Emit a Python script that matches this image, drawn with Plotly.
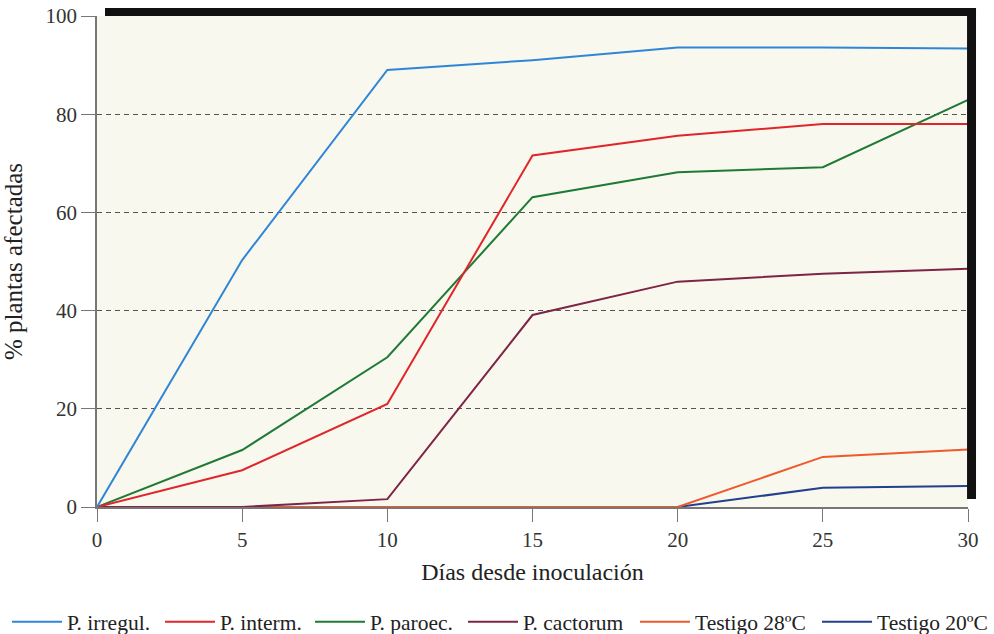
import plotly.graph_objects as go

dias = [0, 5, 10, 15, 20, 25, 30]
p_irregul = [0, 50.3, 89, 91, 93.6, 93.6, 93.4]
p_interm = [0, 7.5, 21, 71.6, 75.6, 78, 78]
p_paroec = [0, 11.6, 30.5, 63.1, 68.2, 69.2, 82.9]
p_cactorum = [0, 0, 1.6, 39.1, 45.9, 47.5, 48.5]
testigo_28 = [0, 0, 0, 0, 0, 10.2, 11.7]
testigo_20 = [0, 0, 0, 0, 0, 3.9, 4.3]

series = [
    ("P. irregul.", p_irregul, "#2f86d6"),
    ("P. interm.", p_interm, "#e0262a"),
    ("P. paroec.", p_paroec, "#1f7a35"),
    ("P. cactorum", p_cactorum, "#7d2447"),
    ("Testigo 28ºC", testigo_28, "#f0592e"),
    ("Testigo 20ºC", testigo_20, "#233f8f"),
]
draw_order = [5, 4, 3, 2, 1, 0]

font = "Liberation Serif"
W, H = 994, 634
L, T, PW, PH = 97, 16, 871, 491

# one legend per entry so the spacing follows the reference
legend_left_px = [7, 160, 310, 463, 635, 817]
legend_ids = ["legend", "legend2", "legend3", "legend4", "legend5", "legend6"]

fig = go.Figure()
for i in draw_order:
    name, vals, col = series[i]
    fig.add_trace(go.Scatter(x=dias, y=vals, mode="lines", name=name,
                             line=dict(color=col, width=2),
                             legend=legend_ids[i]))

legend_layout = {}
for i, lid in enumerate(legend_ids):
    legend_layout[lid] = dict(
        orientation="h", x=(legend_left_px[i] - L) / PW, xanchor="left",
        y=-0.234, yanchor="middle",
        font=dict(family=font, size=21.5, color="#222"),
        itemwidth=50, bgcolor="rgba(0,0,0,0)")

fig.update_layout(
    width=W, height=H,
    margin=dict(l=L, r=W - L - PW, t=T, b=H - T - PH, autoexpand=False),
    paper_bgcolor="white",
    plot_bgcolor="#f8f8ee",
    font=dict(family=font, size=21, color="#333"),
    showlegend=True,
    xaxis=dict(range=[0, 30], tickvals=[0, 5, 10, 15, 20, 25, 30],
               showgrid=False, zeroline=False, showline=True, linecolor="#777",
               linewidth=1.5, ticks="outside", ticklen=13, tickcolor="#777",
               automargin=False, ticklabeloverflow="allow",
               tickfont=dict(family=font, size=21, color="#333"),
               title=dict(text="Días desde inoculación", standoff=12,
                          font=dict(family=font, size=24, color="#222"))),
    yaxis=dict(range=[0, 100], tickvals=[0, 20, 40, 60, 80, 100],
               showgrid=True, gridcolor="#555", griddash="5px,4px", gridwidth=1,
               zeroline=False, showline=True, linecolor="#777", linewidth=1.5,
               ticks="outside", ticklen=14, tickcolor="#777",
               ticklabelstandoff=0, ticklabeloverflow="allow",
               automargin=False,
               tickfont=dict(family=font, size=21, color="#333"),
               title=dict(text="% plantas afectadas", standoff=33,
                          font=dict(family=font, size=25, color="#222"))),
    **legend_layout,
)
# thick black frame on top and right
fig.add_shape(type="rect", xref="paper", yref="paper", x0=0.0092, x1=1.0092,
              y0=1.0, y1=1.0163, fillcolor="#111", line=dict(width=0), layer="above")
fig.add_shape(type="rect", xref="paper", yref="paper", x0=0.9989, x1=1.0092,
              y0=0.0163, y1=1.0163, fillcolor="#111", line=dict(width=0), layer="above")

fig.write_html("out.html", config={"displayModeBar": False},
               post_script="document.body.style.margin='0';document.body.style.overflow='hidden';")
